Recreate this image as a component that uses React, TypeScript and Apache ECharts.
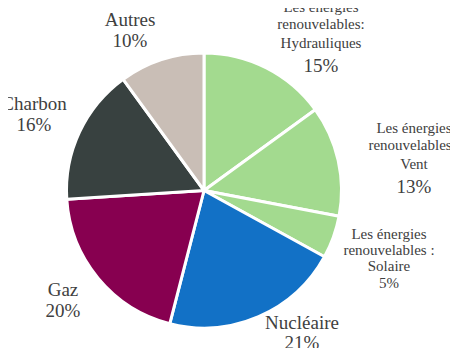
import React, { useEffect, useRef } from "react";
import * as echarts from "echarts";

const categories = [
  "Les énergies renouvelables: Hydrauliques",
  "Les énergies renouvelables : Vent",
  "Les énergies renouvelables : Solaire",
  "Nucléaire",
  "Gaz",
  "Charbon",
  "Autres",
];
const values = [15, 13, 5, 21, 20, 16, 10];
const colors = ["#a3da8f", "#a3da8f", "#a3da8f", "#1271c6", "#870050", "#384140", "#c9beb6"];

// label name lines per slice (percentage appended from values)
const nameLines = [
  ["Les énergies", "renouvelables:", "Hydrauliques"],
  ["Les énergies", "renouvelables :", "Vent"],
  ["Les énergies", "renouvelables :", "Solaire"],
  ["Nucléaire"],
  ["Gaz"],
  ["Charbon"],
  ["Autres"],
];

// layout only: label x centre, y centre of each line, font size of each line
const labelX = [321, 414, 389, 302, 63, 34, 130];
const labelLineY = [
  [7, 23.5, 43, 65],
  [128, 144.5, 164, 186],
  [234, 250, 266, 283],
  [322, 342],
  [289, 310],
  [103, 124],
  [19, 40],
];
const labelSizes = [
  [15, 15, 15, 19],
  [15, 15, 15, 19],
  [15, 15, 15, 15],
  [19, 19],
  [19, 19],
  [19, 19],
  [19, 19],
];

const FONT = "Liberation Serif";
const TXT = "#404040";

export default function App() {
  const ref = useRef<HTMLDivElement>(null);
  useEffect(() => {
    if (!ref.current) return;
    const chart = echarts.init(ref.current, undefined, { renderer: "svg" });
    const texts: any[] = [];
    categories.forEach((_, i) => {
      const lines = [...nameLines[i], `${values[i]}%`];
      lines.forEach((t, j) => {
        texts.push({
          type: "text",
          x: labelX[i],
          y: labelLineY[i][j],
          style: {
            text: t,
            fontFamily: FONT,
            fontSize: labelSizes[i][j],
            fill: TXT,
            align: "center",
            verticalAlign: "middle",
          },
        });
      });
    });
    chart.setOption({
      animation: false,
      series: [
        {
          type: "pie",
          center: [204, 190.5],
          radius: 137.5,
          startAngle: 90,
          clockwise: true,
          data: categories.map((name, i) => ({
            name,
            value: values[i],
            itemStyle: { color: colors[i] },
          })),
          itemStyle: { borderColor: "#ffffff", borderWidth: 3 },
          label: { show: false },
          labelLine: { show: false },
          emphasis: { disabled: true },
        },
      ],
      graphic: texts,
    });
    return () => chart.dispose();
  }, []);
  return (
    <div>
      <div ref={ref} style={{ width: 458, height: 348, margin: "-8px 0 0 -8px", fontFamily: "Liberation Serif" }} />
    </div>
  );
}
